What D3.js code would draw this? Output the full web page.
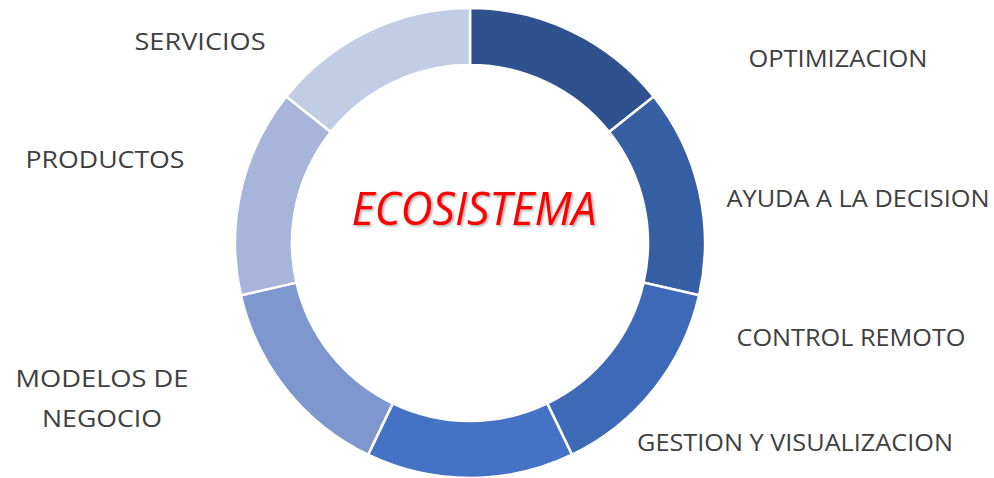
<!DOCTYPE html>
<html><head><meta charset="utf-8">
<script src="https://cdn.jsdelivr.net/npm/d3@7"></script>
<style>html,body{margin:0;padding:0;background:#fff;}svg{display:block;}</style>
</head><body>
<svg id="chart" width="994" height="478"></svg>
<script>
// Data
const categories = ["OPTIMIZACION","AYUDA A LA DECISION","CONTROL REMOTO","GESTION Y VISUALIZACION","MODELOS DE NEGOCIO","PRODUCTOS","SERVICIOS"];
const values = [1,1,1,1,1,1,1];
const colors = ["#2F528F","#365EA3","#3D69B6","#4472C4","#7F97CF","#A7B5DA","#C1CCE5"];
const centerTitle = "ECOSISTEMA";

// Label layout (line breaks, anchor x, first baseline y, line widths)
const labelLayout = [
  {lines:["OPTIMIZACION"], x:838, y:67, w:[179]},
  {lines:["AYUDA A LA DECISION"], x:858, y:207, w:[263]},
  {lines:["CONTROL REMOTO"], x:851, y:346, w:[229]},
  {lines:["GESTION Y VISUALIZACION"], x:795, y:451, w:[316]},
  {lines:["MODELOS DE","NEGOCIO"], x:102, y:387, w:[173,120]},
  {lines:["PRODUCTOS"], x:105, y:168, w:[159]},
  {lines:["SERVICIOS"], x:200, y:50, w:[131]}
];

const svg = d3.select("#chart");
const cx = 470, cy = 243, rOuter = 235, rInner = 178;

const defs = svg.append("defs");
const f = defs.append("filter").attr("id","shadow").attr("x","-10%").attr("y","-30%").attr("width","130%").attr("height","160%");
f.append("feDropShadow").attr("dx",1.5).attr("dy",1.5).attr("stdDeviation",1.2).attr("flood-color","#000").attr("flood-opacity",0.35);

const pie = d3.pie().sort(null).value(d=>d.v);
const arc = d3.arc().innerRadius(rInner).outerRadius(rOuter);

const data = categories.map((c,i)=>({name:c, v:values[i]}));

const g = svg.append("g").attr("transform",`translate(${cx},${cy})`);
g.selectAll("path").data(pie(data)).join("path")
  .attr("d",arc)
  .attr("fill",(d,i)=>colors[i])
  .attr("stroke","#fff")
  .attr("stroke-width",2.5);

// Labels
labelLayout.forEach((L,i)=>{
  const t = svg.append("text")
    .attr("text-anchor","middle")
    .attr("font-family","'Open Sans', sans-serif")
    .attr("font-size",24)
    .attr("fill","#404040");
  L.lines.forEach((ln,j)=>{
    t.append("tspan").attr("x",L.x).attr("y",L.y + j*40).text(ln)
      .attr("textLength",L.w[j]).attr("lengthAdjust","spacingAndGlyphs");
  });
});

// Center title
svg.append("text")
  .attr("x",474).attr("y",225)
  .attr("text-anchor","middle")
  .attr("font-family","'Open Sans', sans-serif")
  .attr("font-style","italic")
  .attr("font-size",46)
  .attr("fill","#FF0000")
  .attr("filter","url(#shadow)")
  .attr("textLength",245).attr("lengthAdjust","spacingAndGlyphs")
  .text(centerTitle);
</script>
</body></html>
